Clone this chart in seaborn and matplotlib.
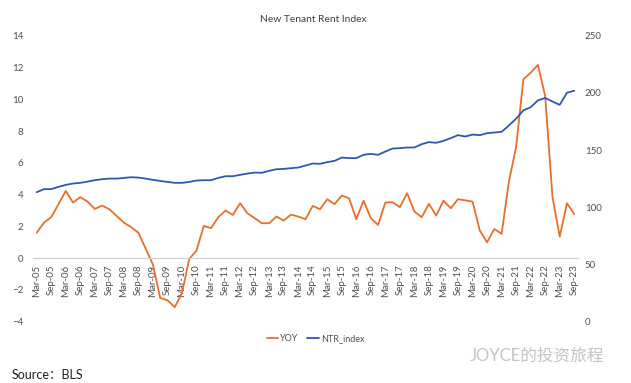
import pandas as pd
import matplotlib.pyplot as plt
import seaborn as sns

# quarterly data, Mar-05 .. Sep-23
quarters = pd.date_range('2005-03-01', '2023-09-01', freq='3MS')

yoy = [1.6, 2.24, 2.58, 3.4, 4.23, 3.5, 3.84, 3.56, 3.1, 3.31,
       3.08, 2.66, 2.24, 1.95, 1.6, 0.6, -0.4, -2.5, -2.65, -3.08,
       -2.2, -0.05, 0.48, 2.03, 1.89, 2.58, 3.0, 2.72, 3.46, 2.83,
       2.52, 2.2, 2.2, 2.62, 2.37, 2.74, 2.62, 2.45, 3.29, 3.08,
       3.71, 3.4, 3.94, 3.77, 2.45, 3.62, 2.52, 2.09, 3.5, 3.52,
       3.21, 4.09, 2.93, 2.58, 3.42, 2.68, 3.62, 3.14, 3.71, 3.64,
       3.56, 1.74, 1.0, 1.84, 1.53, 4.8, 7.0, 11.26, 11.67, 12.16,
       10.2, 3.87, 1.36, 3.46, 2.77]

ntr_index = [113.2, 115.9, 115.9, 117.9, 119.6, 120.8, 121.4, 122.5, 123.7, 124.6,
             125.1, 125.1, 125.7, 126.3, 126.0, 125.1, 124.0, 123.1, 122.2, 121.4,
             121.4, 122.2, 123.4, 123.7, 123.7, 125.7, 127.2, 127.2, 128.4, 129.5,
             130.4, 130.2, 131.9, 133.3, 133.6, 134.2, 134.8, 136.5, 138.3, 138.0,
             139.5, 140.6, 143.5, 143.0, 143.0, 145.9, 146.7, 145.9, 148.8, 151.4,
             151.7, 152.3, 152.3, 155.2, 157.0, 156.4, 158.1, 160.5, 163.1, 161.9,
             163.6, 163.1, 164.8, 165.4, 166.0, 171.5, 177.5, 184.8, 187.5, 193.5,
             195.6, 192.5, 189.6, 200.2, 201.9]

df = pd.DataFrame({'pos': range(len(quarters)), 'YOY': yoy, 'NTR_index': ntr_index})
tick_pos = list(df['pos'][::2])
tick_labels = [d.strftime('%b-%y') for d in quarters[::2]]

sns.set_style('white')
plt.rcParams['font.family'] = ['Lato', 'Noto Sans CJK SC', 'DejaVu Sans']

orange = '#E5702C'
blue = '#2F59AD'
grey = '#505050'

fig = plt.figure(figsize=(6.31, 3.83), dpi=100)
ax = fig.add_axes([0.0524, 0.160, 0.8634, 0.7467])
ax2 = ax.twinx()

sns.lineplot(data=df, x='pos', y='YOY', ax=ax, color=orange, linewidth=1.3, legend=False)
sns.lineplot(data=df, x='pos', y='NTR_index', ax=ax2, color=blue, linewidth=1.3, legend=False)

ax.set_xlim(-0.5, len(quarters) - 0.5)
ax.set_ylim(-4, 14)
ax.set_yticks(range(-4, 15, 2))
ax2.set_ylim(0, 250)
ax2.set_yticks(range(0, 251, 50))

ax.set_xlabel('')
ax.set_ylabel('')
ax2.set_ylabel('')
ax2.set_xlabel('')
ax2.tick_params(axis='x', which='both', bottom=False, labelbottom=False, top=False, labeltop=False)

ax.set_xticks(tick_pos)
ax.set_xticklabels(tick_labels)
ax.tick_params(axis='x', labelrotation=90, labelsize=7, labelcolor=grey,
               direction='out', length=3, color='#d0d0d0', pad=1.5)

# horizontal axis sits on the zero line, like Excel
ax.spines['bottom'].set_position(('data', 0))
ax.spines['bottom'].set_color('#d0d0d0')
for side in ['top', 'left', 'right']:
    ax.spines[side].set_visible(False)
for side in ['top', 'left', 'right', 'bottom']:
    ax2.spines[side].set_visible(False)

ax.tick_params(axis='y', length=0, labelsize=7, labelcolor=grey, pad=7)
ax2.tick_params(axis='y', length=0, labelsize=7, labelcolor=grey, pad=5)

fig.text(0.497, 0.948, 'New Tenant Rent Index', ha='center', va='center', fontsize=7.4, color='#404040')

handles = ax.get_lines()[:1] + ax2.get_lines()[:1]
fig.legend(handles, ['YOY', 'NTR_index'], loc='center', bbox_to_anchor=(0.5, 0.116), ncol=2,
           frameon=False, fontsize=6.5, handlelength=1.3, handletextpad=0.2, columnspacing=1.0,
           labelcolor=grey)

fig.text(0.019, 0.004, 'Source：BLS', ha='left', va='bottom', fontsize=9, color='#222222')
fig.text(0.958, 0.072, 'JOYCE的投资旅程', ha='right', va='center', fontsize=12, color='#c4c4c4')

fig.savefig('out.png', dpi=100)
